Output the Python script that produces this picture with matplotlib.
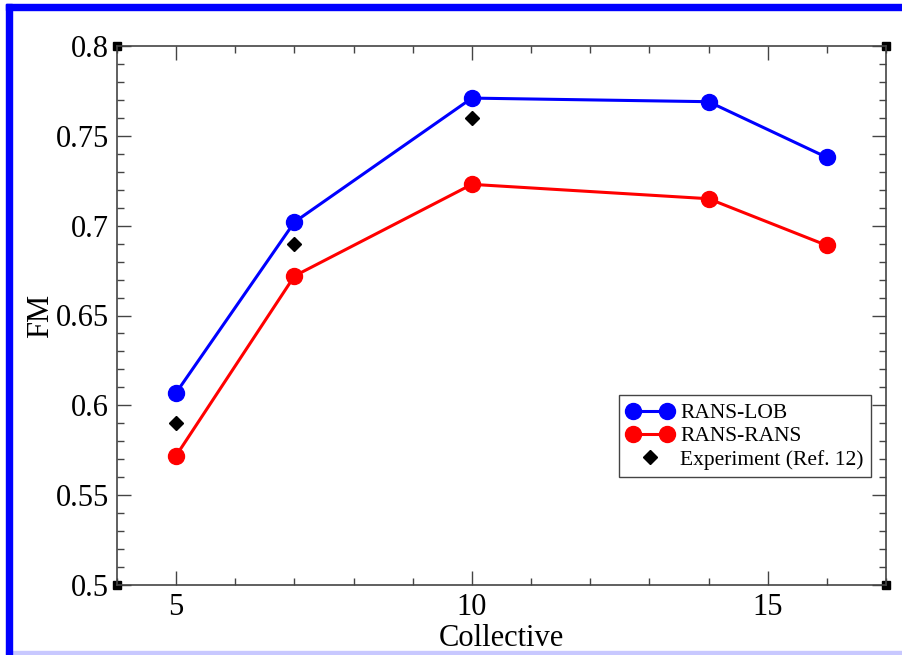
import matplotlib
matplotlib.use("Agg")
import matplotlib.pyplot as plt
from matplotlib.patches import Rectangle
from matplotlib.legend_handler import HandlerLine2D

collective = [5, 7, 10, 14, 16]
rans_lob = [0.607, 0.702, 0.771, 0.769, 0.738]
rans_rans = [0.572, 0.672, 0.723, 0.715, 0.689]
exp_x = [5, 7, 10]
exp_fm = [0.590, 0.690, 0.760]

plt.rcParams['font.family'] = ['Liberation Serif', 'DejaVu Serif']

W, H = 902, 655
fig = plt.figure(figsize=(W / 100, H / 100), dpi=100)
ax = fig.add_axes([117 / W, 1 - 585 / H, (886 - 117) / W, (585 - 46) / H])

ax.plot(collective, rans_lob, '-o', color='#0000ff', lw=2.2, ms=11.5, label='RANS-LOB')
ax.plot(collective, rans_rans, '-o', color='#ff0000', lw=2.2, ms=11.5, label='RANS-RANS')
exp_line, = ax.plot(exp_x, exp_fm, 'D', color='black', ms=7, ls='none',
                    label='Experiment (Ref. 12)')

ax.set_xlim(4, 17)
ax.set_ylim(0.5, 0.8)
ax.set_xticks([5, 10, 15])
ax.set_xticks(range(4, 18), minor=True)
ax.set_yticks([0.5, 0.55, 0.6, 0.65, 0.7, 0.75, 0.8])
ax.set_yticklabels(['0.5', '0.55', '0.6', '0.65', '0.7', '0.75', '0.8'])
ax.set_yticks([0.5 + 0.01 * i for i in range(31)], minor=True)
ax.tick_params(which='both', direction='in', top=True, right=True, color='#444444')
ax.tick_params(which='major', length=10, width=1, labelsize=22, pad=6)
ax.tick_params(which='minor', length=5, width=1)
for s in ax.spines.values():
    s.set_linewidth(1.2)
    s.set_color('#444444')

ax.set_xlabel('Collective', fontsize=22, labelpad=1)
ax.set_ylabel('FM', fontsize=22, labelpad=0)

leg = ax.legend(loc='lower right', bbox_to_anchor=(0.981, 0.2), fontsize=15.5,
                frameon=True, fancybox=False, edgecolor='#444444', framealpha=1,
                numpoints=2, handlelength=2.2, handletextpad=0.3, borderpad=0.35,
                labelspacing=0.15, borderaxespad=0,
                handler_map={exp_line: HandlerLine2D(numpoints=1)})
leg.get_frame().set_linewidth(1.0)

# corner squares
for cx, cy in [(0, 0), (0, 1), (1, 0), (1, 1)]:
    ax.plot([cx], [cy], 's', color='black', ms=6, transform=ax.transAxes, clip_on=False)

# blue border
fig.patches.append(Rectangle((6 / W, 0), 6 / W, 1 - 4 / H, transform=fig.transFigure,
                             color='#0000ff', zorder=10))
fig.patches.append(Rectangle((6 / W, 1 - 10 / H), 1, 6 / H, transform=fig.transFigure,
                             color='#0000ff', zorder=10))
fig.patches.append(Rectangle((6 / W, 1 - 654 / H), 1, 3 / H, transform=fig.transFigure,
                             color='#c8c8ff', zorder=9))

fig.savefig('out.png', dpi=100)
